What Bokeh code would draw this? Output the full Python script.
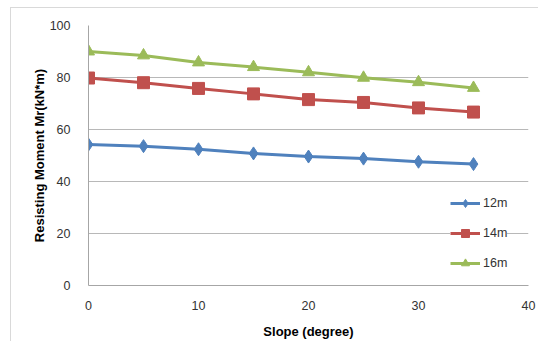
from bokeh.plotting import figure
from bokeh.models import Range1d, FixedTicker, Legend, LegendItem
from bokeh.embed import file_html
from bokeh.resources import INLINE

slope = [0, 5, 10, 15, 20, 25, 30, 35]
m12 = [54.2, 53.6, 52.4, 50.8, 49.6, 48.8, 47.6, 46.7]
m14 = [79.8, 78.0, 75.8, 73.7, 71.5, 70.4, 68.3, 66.7]
m16 = [90.0, 88.5, 85.8, 84.0, 82.0, 79.9, 78.2, 76.0]
series_names = ["12m", "14m", "16m"]
x_ticks = [0, 10, 20, 30, 40]
y_ticks = [0, 20, 40, 60, 80, 100]

FONT = "Liberation Sans"

p = figure(width=538, height=341, output_backend="svg", toolbar_location=None,
           x_range=Range1d(0, 40), y_range=Range1d(0, 100),
           min_border_left=88, min_border_right=10, min_border_top=25, min_border_bottom=56)
p.outline_line_color = None
p.background_fill_color = "white"
p.border_fill_color = None
p.styles = {
    "background": "linear-gradient(#d9d9d9,#d9d9d9) 10px 7px / 1px 100% no-repeat, "
                  "linear-gradient(#d9d9d9,#d9d9d9) 10px 7px / 100% 1px no-repeat, white"
}

p.xaxis.ticker = FixedTicker(ticks=x_ticks)
p.yaxis.ticker = FixedTicker(ticks=y_ticks)
p.xgrid.grid_line_color = None
p.ygrid.grid_line_color = "#b8b8b8"
p.ygrid.grid_line_width = 1

for ax in (p.xaxis[0], p.yaxis[0]):
    ax.axis_line_color = "#a6a6a6"
    ax.major_tick_line_color = None
    ax.minor_tick_line_color = None
    ax.major_label_text_font = FONT
    ax.major_label_text_font_size = "12.5px"
    ax.major_label_text_color = "#333333"
    ax.axis_label_text_font = FONT
    ax.axis_label_text_font_size = "13px"
    ax.axis_label_text_font_style = "bold"
    ax.axis_label_text_color = "#000000"

p.xaxis.axis_label = "Slope (degree)"
p.yaxis.axis_label = "Resisting Moment Mr(kN*m)"
p.xaxis.major_label_standoff = 9
p.yaxis.major_label_standoff = 12
p.xaxis.axis_label_standoff = 11
p.yaxis.axis_label_standoff = 0

colors = ["#4f81bd", "#c0504d", "#9bbb59"]
markers = ["diamond", "square", "triangle"]
sizes = [13, 12, 12]
legend_sizes = [10, 9, 9]
data = [m12, m14, m16]

items = []
for name, ys, c, mk, sz, lsz in zip(series_names, data, colors, markers, sizes, legend_sizes):
    ln = p.line(slope, ys, line_color=c, line_width=3)
    p.scatter(slope, ys, marker=mk, size=sz, fill_color=c, line_color=c)
    key = p.scatter([float("nan")], [float("nan")], marker=mk, size=lsz,
                    fill_color=c, line_color=c)
    items.append(LegendItem(label=name, renderers=[ln, key]))

legend = Legend(items=items, location=(362, 12), orientation="vertical",
                background_fill_color="white", background_fill_alpha=1.0,
                border_line_color=None, glyph_width=30, glyph_height=20,
                label_height=20, spacing=10, padding=7, label_standoff=3,
                label_text_font=FONT, label_text_font_size="12.5px",
                label_text_color="#333333")
p.add_layout(legend, "center")

open("out.html", "w").write(file_html(p, INLINE))
